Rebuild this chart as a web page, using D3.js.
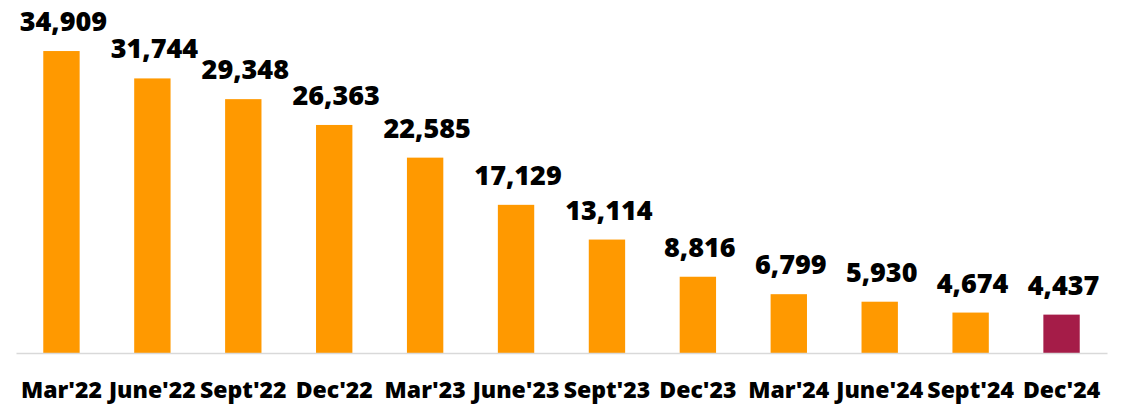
<!DOCTYPE html>
<html>
<head>
<meta charset="utf-8">
<script src="https://cdn.jsdelivr.net/npm/d3@7"></script>
<style>
  body { margin: 0; background: #fff; }
  text { font-family: "Open Sans", sans-serif; font-weight: 800; fill: #000; }
</style>
</head>
<body>
<script>
var quarters = ["Mar'22", "June'22", "Sept'22", "Dec'22", "Mar'23", "June'23",
                "Sept'23", "Dec'23", "Mar'24", "June'24", "Sept'24", "Dec'24"]
var counts = [34909, 31744, 29348, 26363, 22585, 17129, 13114, 8816, 6799, 5930, 4674, 4437]

var width = 1130, height = 405

var svg = d3.select("body").append("svg")
    .attr("width", width)
    .attr("height", height)

var data = quarters.map(function(q, i) { return {q: q, v: counts[i]} })

var x = d3.scaleBand()
    .domain(quarters)
    .range([16, 1107])
    .paddingInner(0.6)
    .paddingOuter(0.3)

var y = d3.scaleLinear()
    .domain([0, 40000])
    .range([353, 7])

// bars
svg.selectAll(".bar")
    .data(data)
  .enter().append("rect")
    .attr("class", "bar")
    .attr("x", function(d) { return x(d.q) })
    .attr("y", function(d) { return y(d.v) })
    .attr("width", x.bandwidth())
    .attr("height", function(d) { return y(0) - y(d.v) })
    .attr("fill", function(d, i) { return i == data.length - 1 ? "#A51C48" : "#FF9900" })

// value labels
svg.selectAll(".lbl")
    .data(data)
  .enter().append("text")
    .attr("class", "lbl")
    .attr("x", function(d) { return x(d.q) + x.bandwidth() / 2 + 2 })
    .attr("y", function(d) { return y(d.v) - 20 })
    .attr("text-anchor", "middle")
    .style("font-size", "27px")
    .text(function(d) { return d3.format(",")(d.v) })

// x axis
var xAxis = svg.append("g")
    .attr("transform", "translate(0," + y(0) + ")")
    .call(d3.axisBottom(x).tickSize(0).tickPadding(29))

xAxis.select(".domain").attr("stroke", "#d9d9d9").attr("stroke-width", 1.5)
xAxis.selectAll("text")
    .style("font-size", "23px")
    .attr("fill", "#000")
</script>
</body>
</html>
